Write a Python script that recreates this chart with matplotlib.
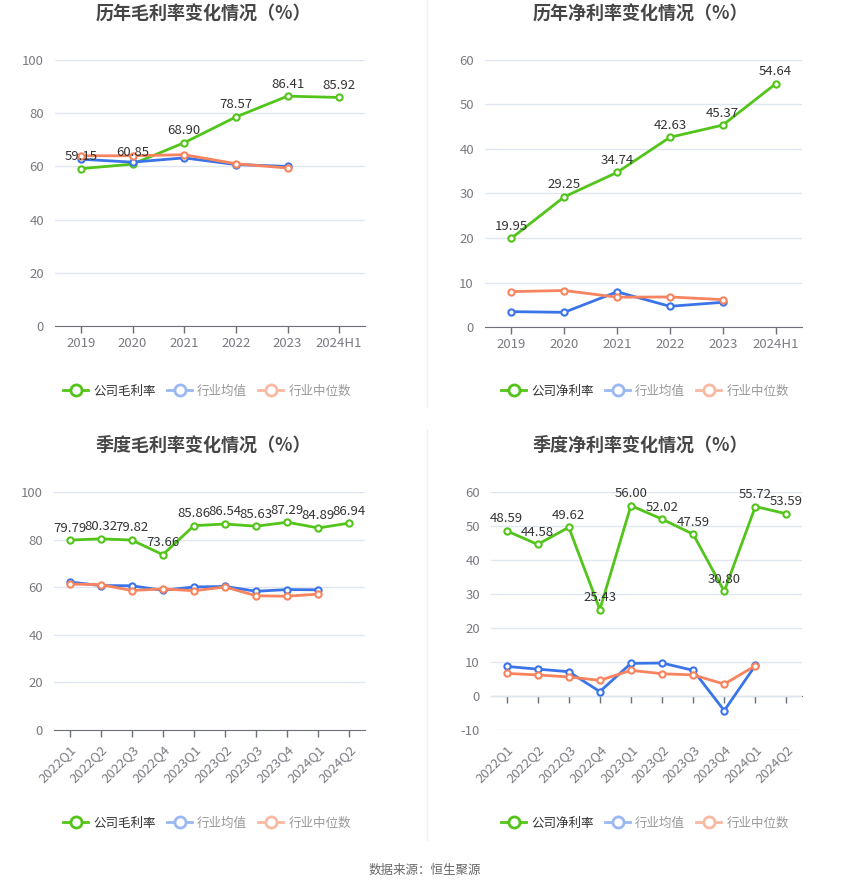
import matplotlib
matplotlib.use('Agg')
import matplotlib.pyplot as plt
from matplotlib.lines import Line2D

plt.rcParams['font.family'] = ['Noto Sans CJK SC', 'DejaVu Sans']
plt.rcParams['axes.unicode_minus'] = False

# 数据
years = ['2019', '2020', '2021', '2022', '2023', '2024H1']
quarters = ['2022Q1', '2022Q2', '2022Q3', '2022Q4', '2023Q1', '2023Q2',
            '2023Q3', '2023Q4', '2024Q1', '2024Q2']

gross_year = [59.15, 60.85, 68.90, 78.57, 86.41, 85.92]
gross_year_mean = [62.7, 61.6, 63.2, 60.7, 60.0]
gross_year_median = [64.0, 64.0, 64.4, 61.0, 59.4]

net_year = [19.95, 29.25, 34.74, 42.63, 45.37, 54.64]
net_year_mean = [3.45, 3.3, 7.9, 4.65, 5.55]
net_year_median = [7.95, 8.2, 6.7, 6.75, 6.15]

gross_q = [79.79, 80.32, 79.82, 73.66, 85.86, 86.54, 85.63, 87.29, 84.89, 86.94]
gross_q_mean = [62.2, 60.7, 60.6, 58.7, 60.1, 60.3, 58.3, 59.0, 58.9]
gross_q_median = [61.3, 61.1, 58.6, 59.3, 58.5, 60.1, 56.4, 56.2, 57.1]

net_q = [48.59, 44.58, 49.62, 25.43, 56.00, 52.02, 47.59, 30.80, 55.72, 53.59]
net_q_mean = [8.7, 7.9, 7.15, 1.3, 9.6, 9.7, 7.55, -4.3, 9.0]
net_q_median = [6.65, 6.2, 5.6, 4.6, 7.55, 6.55, 6.2, 3.5, 8.9]

GREEN = '#52c41a'
BLUE = '#3a74e8'
ORANGE = '#f7845e'
BLUE_L = '#9bb8f3'
ORANGE_L = '#f9b9a2'

W, H = 850, 891
fig = plt.figure(figsize=(W / 100, H / 100), dpi=100)


def add_ax(x0, x1, y0, y1):
    return fig.add_axes([x0 / W, 1 - y1 / H, (x1 - x0) / W, (y1 - y0) / H])


def draw(ax, cats, comp, mean, median, yticks, rotate, title, tx, ty):
    n = len(cats)
    xs = list(range(n))
    ax.set_xlim(-0.5, n - 0.5)
    ax.set_ylim(yticks[0], yticks[-1])
    ax.set_yticks(yticks)
    ax.yaxis.grid(True, color='#e0e6f1', lw=1)
    ax.set_axisbelow(True)
    for s in ax.spines.values():
        s.set_visible(False)
    ax.tick_params(axis='y', length=0, labelsize=9.5, colors='#7a7b82', pad=8)
    ax.set_xticks(xs)
    if rotate:
        ax.set_xticklabels(cats, rotation=45, ha='right', va='top',
                           rotation_mode='anchor')
        ax.tick_params(axis='x', length=0, labelsize=9.5, colors='#7a7b82', pad=9)
    else:
        ax.set_xticklabels(cats)
        ax.tick_params(axis='x', length=0, labelsize=9.5, colors='#7a7b82', pad=8)

    # 零轴线 + 刻度
    loc = (0 - yticks[0]) / (yticks[-1] - yticks[0])
    sec = ax.secondary_xaxis(loc)
    sec.set_xticks(xs)
    sec.set_xticklabels([])
    sec.spines['bottom'].set_color('#6e7079')
    sec.tick_params(axis='x', direction='out', length=5, color='#6e7079', width=1)

    mk = dict(marker='o', markersize=4.5, markerfacecolor='white',
              markeredgewidth=1.5, lw=2)
    ax.plot(xs, comp, color=GREEN, zorder=3, **mk)
    ax.plot(xs[:len(mean)], mean, color=BLUE, zorder=4, **mk)
    ax.plot(xs[:len(median)], median, color=ORANGE, zorder=5, **mk)
    for x, v in zip(xs, comp):
        ax.annotate(f'{v:.2f}', (x, v), xytext=(0, 4), textcoords='offset points',
                    ha='center', va='bottom', fontsize=9.5, color='#333333', zorder=6)

    fig.text(tx / W, 1 - ty / H, title, ha='center', va='center',
             fontsize=13, fontweight='bold', color='#464646')

    handles = [
        Line2D([], [], color=c, marker='o', markersize=8, markerfacecolor='white',
               markeredgewidth=2, lw=2)
        for c in (GREEN, BLUE_L, ORANGE_L)
    ]
    return handles


def legend(handles, labels, cx, cy):
    leg = fig.legend(handles, labels, loc='center', bbox_to_anchor=(cx / W, 1 - cy / H),
                     ncol=3, frameon=False, fontsize=9, handlelength=2.0,
                     handletextpad=0.4, columnspacing=0.9)
    for t, c in zip(leg.get_texts(), ['#333333', '#999999', '#999999']):
        t.set_color(c)


ax1 = add_ax(55, 365, 60, 326)
h = draw(ax1, years, gross_year, gross_year_mean, gross_year_median,
         [0, 20, 40, 60, 80, 100], False, '历年毛利率变化情况（%）', 203, 14)
legend(h, ['公司毛利率', '行业均值', '行业中位数'], 207, 391)

ax2 = add_ax(485, 802, 60, 327)
h = draw(ax2, years, net_year, net_year_mean, net_year_median,
         [0, 10, 20, 30, 40, 50, 60], False, '历年净利率变化情况（%）', 640, 14)
legend(h, ['公司净利率', '行业均值', '行业中位数'], 645, 391)

ax3 = add_ax(54, 365, 492, 730)
h = draw(ax3, quarters, gross_q, gross_q_mean, gross_q_median,
         [0, 20, 40, 60, 80, 100], True, '季度毛利率变化情况（%）', 203, 445)
legend(h, ['公司毛利率', '行业均值', '行业中位数'], 207, 823)

ax4 = add_ax(491, 802, 492, 730)
h = draw(ax4, quarters, net_q, net_q_mean, net_q_median,
         [-10, 0, 10, 20, 30, 40, 50, 60], True, '季度净利率变化情况（%）', 640, 445)
legend(h, ['公司净利率', '行业均值', '行业中位数'], 645, 823)

# 分隔线
fig.add_artist(Line2D([427 / W, 427 / W], [1, 1 - 407 / H], color='#eeeeee', lw=1))
fig.add_artist(Line2D([427 / W, 427 / W], [1 - 430 / H, 1 - 840 / H], color='#eeeeee', lw=1))

fig.text(425 / W, 1 - 870 / H, '数据来源：恒生聚源', ha='center', va='center',
         fontsize=9, color='#666666')

fig.savefig('out.png', dpi=100, facecolor='white')
